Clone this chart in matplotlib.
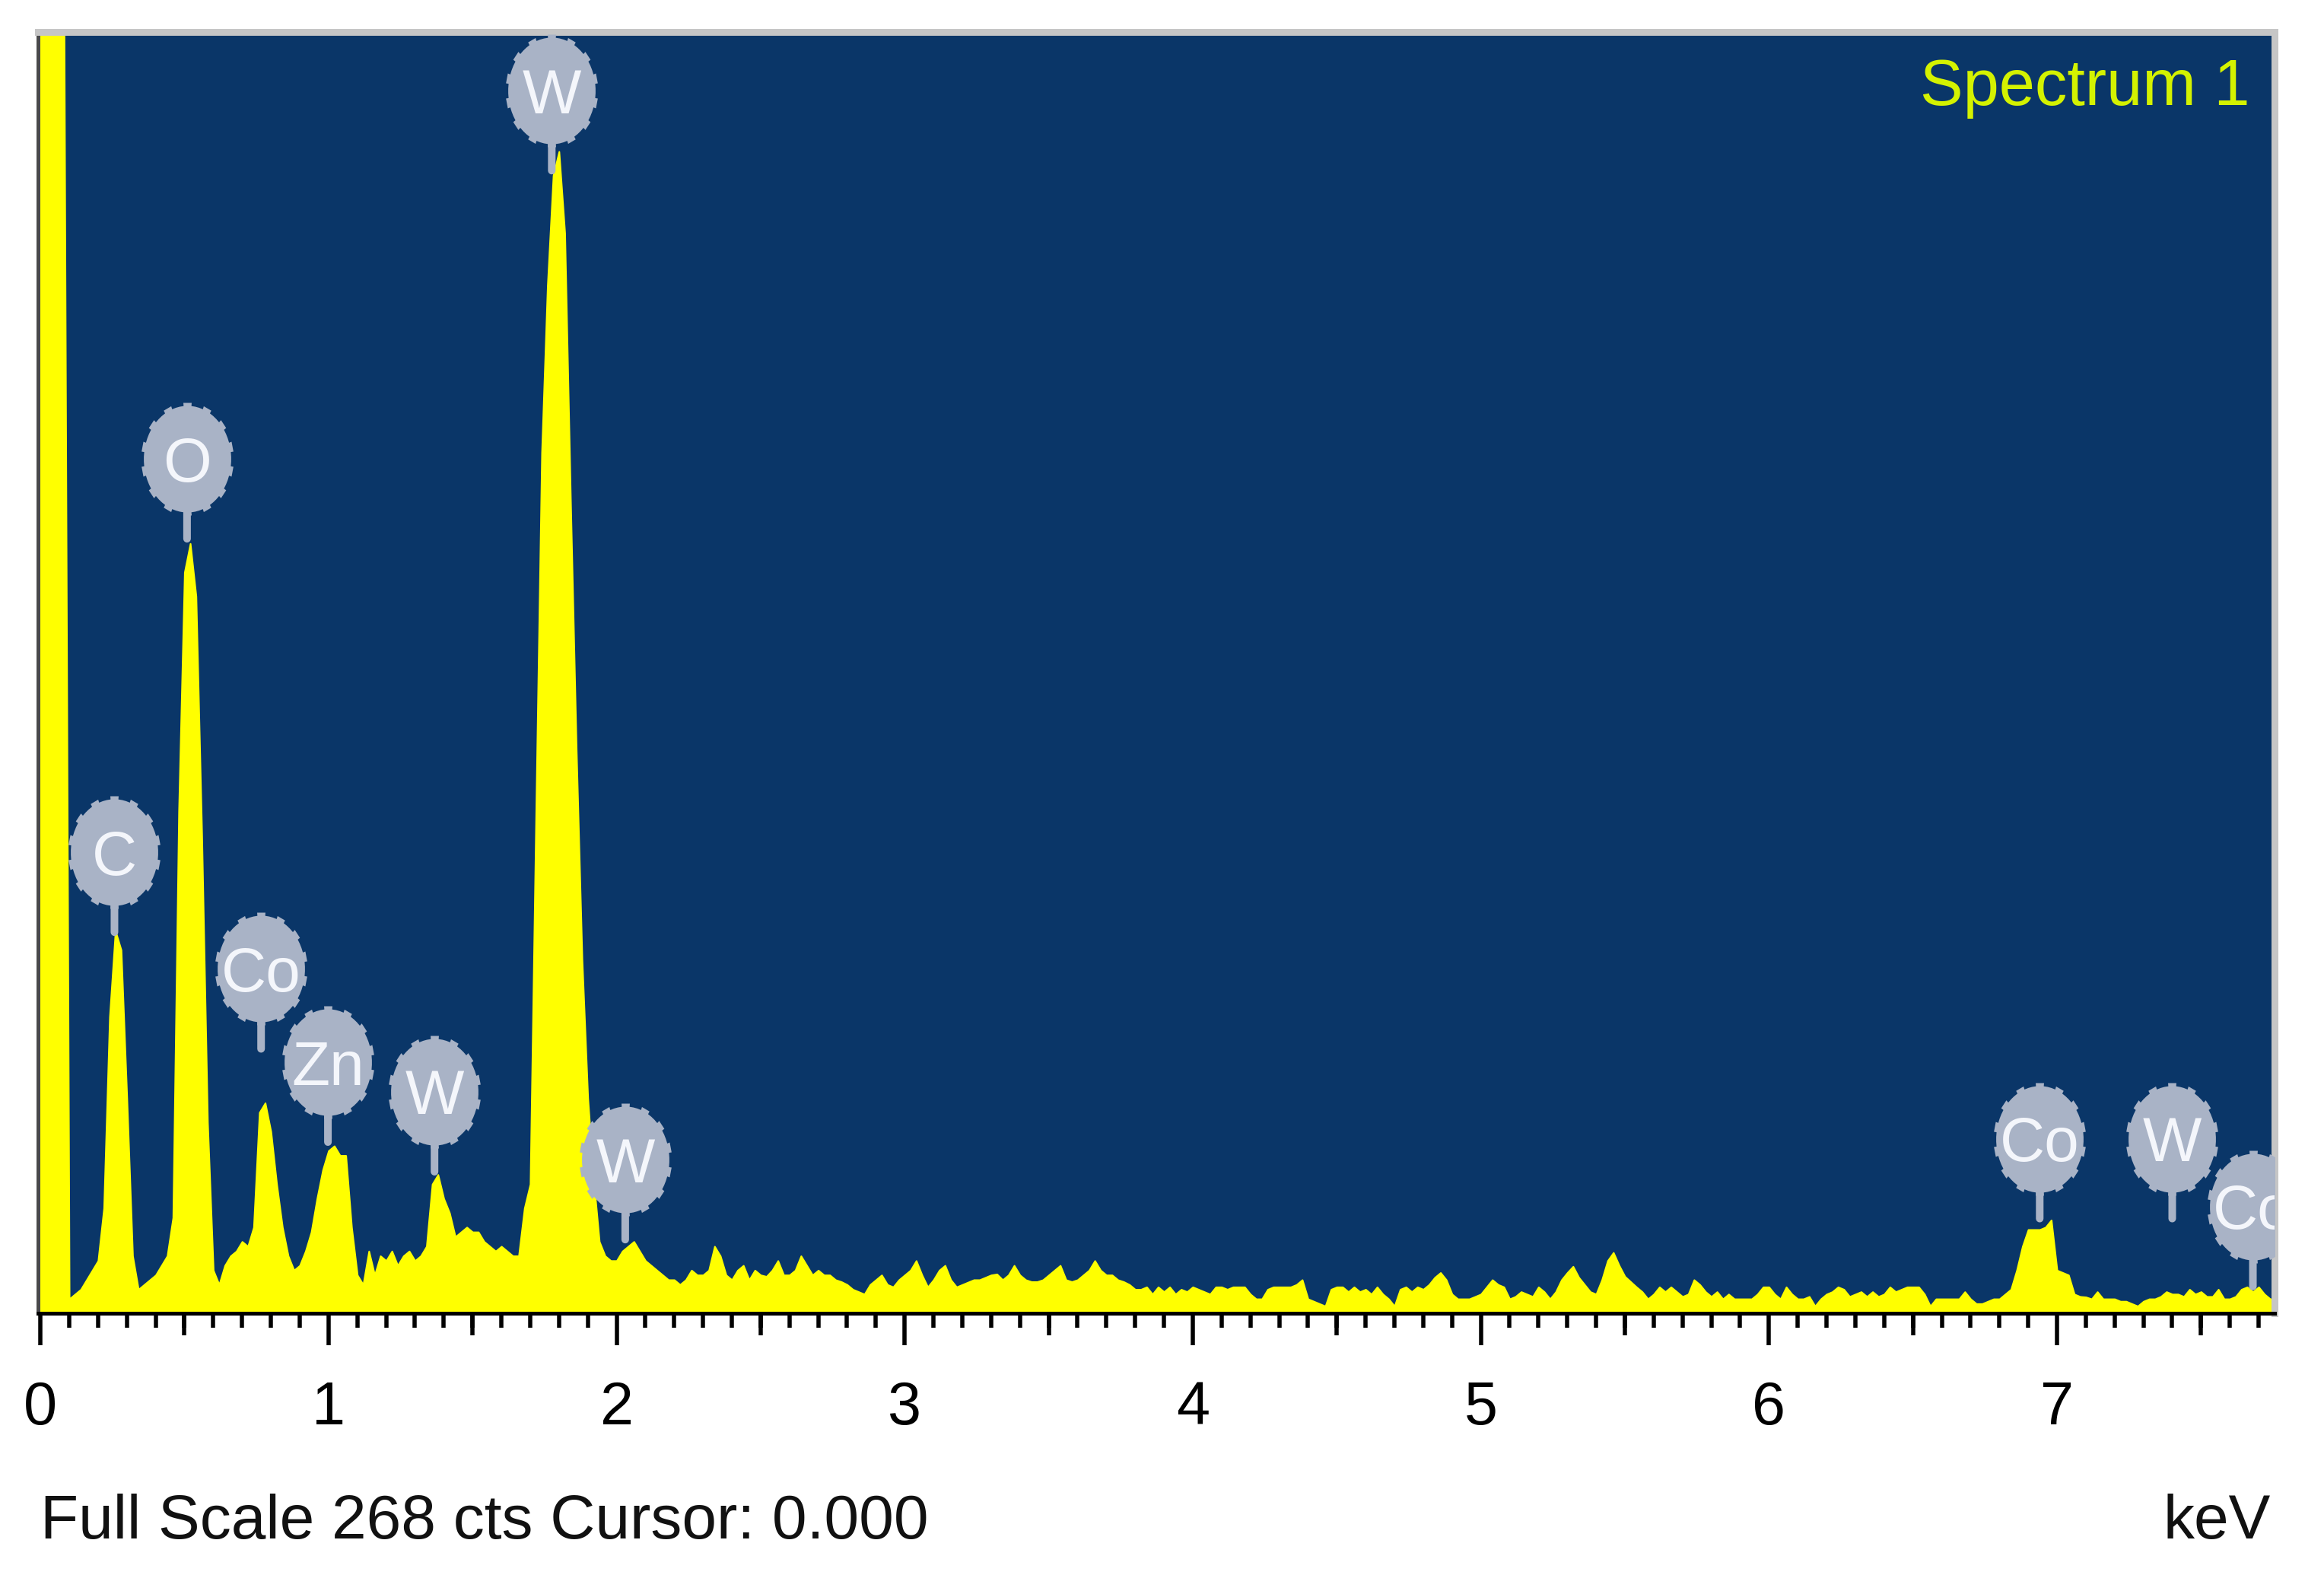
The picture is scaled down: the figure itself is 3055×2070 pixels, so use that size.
import numpy as np
import matplotlib
matplotlib.use("Agg")
import matplotlib.pyplot as plt
from matplotlib.path import Path
from matplotlib.transforms import offset_copy

plt.rcParams['font.family'] = ['Liberation Sans', 'DejaVu Sans']

# -------------------------------
# DATA
# -------------------------------
# channel energies, 20 eV steps from 0 to 7.76 keV
energy_kev = np.round(np.arange(0, 389) * 0.02, 2)

counts = [
    300, 300, 300, 300, 300, 3, 4, 5, 7, 9,            # 0.00
    11, 22, 62, 80, 76, 45, 12, 5, 6, 7,                # 0.20
    8, 10, 12, 20, 105, 155, 161, 150, 100, 40,         # 0.40
    9, 6, 10, 12, 13, 15, 14, 18, 42, 44,               # 0.60
    38, 27, 18, 12, 9, 10, 13, 17, 24, 30,              # 0.80
    34, 35, 33, 33, 18, 8, 6, 13, 8, 12,                # 1.00
    11, 13, 10, 12, 13, 11, 12, 14, 27, 29,             # 1.20
    24, 21, 16, 17, 18, 17, 17, 15, 14, 13,             # 1.40
    14, 13, 12, 12, 22, 27, 105, 180, 215, 238,         # 1.60
    243, 226, 170, 118, 74, 45, 28, 15, 12, 11,         # 1.80
    11, 13, 14, 15, 13, 11, 10, 9, 8, 7,                # 2.00
    7, 6, 7, 9, 8, 8, 9, 14, 12, 8,                     # 2.20
    7, 9, 10, 7, 9, 8, 7.7, 9, 11, 8,                   # 2.40
    8, 9, 12, 10, 8, 9, 8, 8, 7, 6.6,                   # 2.60
    6, 5, 4.5, 4, 6, 7, 8, 6, 5.5, 7,                   # 2.80
    8, 9, 11, 8, 5.5, 7, 9, 10, 7, 5.5,                 # 3.00
    6, 6.5, 7, 7, 7.5, 8, 8.2, 7, 8, 10,                # 3.20
    8, 7, 6.6, 6.6, 7, 8, 9, 10, 7, 6.6,                # 3.40
    7, 8, 9, 11, 9, 8, 8, 7, 6.6, 6,                    # 3.60
    5, 5, 5.5, 4, 5.5, 4.5, 5.5, 4, 5, 4.5,             # 3.80
    5.5, 5, 4.5, 4, 5.5, 5.5, 5, 5.5, 5.5, 5.5,         # 4.00
    4, 3, 3, 5, 5.5, 5.5, 5.5, 5.5, 6, 7,               # 4.20
    3, 2.5, 2, 1.5, 5, 5.5, 5.5, 4.5, 5.5, 4.5,         # 4.40
    5, 4, 5.5, 4, 3, 1.5, 5, 5.5, 4.5, 5.5,             # 4.60
    5, 6, 7.5, 8.5, 7, 4, 3, 3, 3, 3.5,                 # 4.80
    4, 5.5, 7, 6, 5.5, 3, 3.5, 4.5, 4, 3.5,             # 5.00
    5.5, 4.5, 3, 4.5, 7, 8.5, 9.8, 7.5, 6, 4.5,         # 5.20
    4, 7, 11, 12.7, 10, 7.7, 6.6, 5.5, 4.5, 3,          # 5.40
    4, 5.5, 4.5, 5.5, 4.5, 3.5, 4, 7, 6, 4.5,           # 5.60
    3.5, 4.5, 3, 4, 3, 3, 3, 3, 4, 5.5,                 # 5.80
    5.5, 4, 3, 5.5, 4, 3, 3, 3.5, 1.5, 3,               # 6.00
    4, 4.5, 5.5, 5, 3.5, 4, 4.5, 3.5, 4.5, 3.5,         # 6.20
    4, 5.5, 4.5, 5, 5.5, 5.5, 5.5, 4, 1.5, 3,           # 6.40
    3, 3, 3, 3, 4.5, 3, 2, 2, 2.5, 3,                   # 6.60
    3, 4, 5, 9, 14, 17.5, 17.5, 17.5, 18, 19.5,         # 6.80
    9, 8.5, 8, 4, 3.5, 3.4, 3, 4.5, 3, 3,               # 7.00
    3, 2.5, 2.5, 2, 1.5, 2.5, 3, 3, 3.5, 4.5,           # 7.20
    4, 4, 3.5, 5, 4, 4.5, 3.5, 3.5, 5, 3,               # 7.40
    3, 3.5, 5, 5.5, 4.5, 5.5, 4, 3, 3,                  # 7.60
]

# element markers: name, energy (keV), counts at the foot of the stem
label_names = ['C', 'O', 'Co', 'Zn', 'W', 'W', 'W', 'Co', 'W', 'Co']
label_kev = [0.257, 0.509, 0.766, 0.998, 1.368, 1.775, 2.03, 6.94, 7.40, 7.68]
label_cts = [79.7, 162, 55.3, 35.8, 29.6, 239, 15.4, 19.8, 19.8, 5.6]

full_scale = 268
tick_labels = ['0', '1', '2', '3', '4', '5', '6', '7']

# -------------------------------
# STYLE
# -------------------------------
BG = '#0a3668'
YELLOW = '#ffff00'
TAG = '#a9b3c6'
DPI = 100
px = 72.0 / DPI  # points per pixel


def gear_path(n_teeth=14, r_in=1.0, r_out=1.06, stretch=1.22):
    """oval with small square teeth, like the EDS software tags"""
    step = 2 * np.pi / n_teeth
    verts = []
    for k in range(n_teeth):
        a0 = k * step + np.pi / 2 - step * 0.2
        a1 = a0 + step * 0.4
        verts += [(r_in * np.cos(a0), r_in * np.sin(a0)),
                  (r_out * np.cos(a0), r_out * np.sin(a0)),
                  (r_out * np.cos(a1), r_out * np.sin(a1)),
                  (r_in * np.cos(a1), r_in * np.sin(a1))]
        # fill the gap with a few points on the inner circle
        for t in np.linspace(a1, a0 + step, 4)[1:-1]:
            verts.append((r_in * np.cos(t), r_in * np.sin(t)))
    verts = np.array(verts)
    verts[:, 1] *= stretch
    verts = np.vstack([verts, verts[:1]])
    codes = [Path.MOVETO] + [Path.LINETO] * (len(verts) - 2) + [Path.CLOSEPOLY]
    return Path(verts, codes)


fig = plt.figure(figsize=(30.55, 20.70), dpi=DPI)
ax = fig.add_axes([0.0164, 0.1662, 0.9623, 0.8135])
ax.set_facecolor(BG)

ax.fill_between(energy_kev, counts, 0, color=YELLOW, lw=1.5, zorder=2)

ax.set_xlim(-0.008, 7.755)
ax.set_ylim(0, full_scale)

# ticks: long at whole keV, medium at half keV, short every 0.1 keV
ax.set_xticks(np.arange(len(tick_labels)))
ax.set_xticklabels(tick_labels)
ax.set_xticks(np.arange(0, 7.8, 0.1), minor=True)
ax.tick_params(axis='x', which='major', direction='out', length=42 * px, width=5.5 * px,
               color='black', labelsize=57, pad=33)
ax.tick_params(axis='x', which='minor', direction='out', length=19 * px, width=5.5 * px,
               color='black')
ax.set_yticks([])

half = ax.secondary_xaxis('bottom')
half.set_xticks(np.arange(0.5, 7.6, 1.0))
half.set_xticklabels([])
half.tick_params(axis='x', direction='out', length=29 * px, width=5.5 * px, color='black')
half.spines['bottom'].set_visible(False)

ax.spines['bottom'].set_color('black')
ax.spines['bottom'].set_linewidth(5 * px)
ax.spines['left'].set_color('#4a4a4a')
ax.spines['left'].set_linewidth(5 * px)
for side in ('top', 'right'):
    ax.spines[side].set_color('#c6c6c6')
    ax.spines[side].set_linewidth(9 * px)

# element tags
gear = gear_path()
stem_px = 105
for name, e, c in zip(label_names, label_kev, label_cts):
    ax.annotate('', xy=(e, c), xytext=(0, stem_px * px), textcoords='offset points',
                arrowprops=dict(arrowstyle='-', lw=10 * px, color=TAG, shrinkA=0, shrinkB=0),
                zorder=4)
    tr = offset_copy(ax.transData, fig=fig, x=0, y=stem_px, units='dots')
    ax.plot([e], [c], marker=gear, ms=148 * px, color=TAG, mec='none',
            transform=tr, zorder=5, clip_on=True)
    ax.text(e, c, name, transform=tr, ha='center', va='center_baseline', fontsize=59,
            color='#f4f6fb', zorder=6, clip_on=True)

ax.text(0.9888, 0.943, 'Spectrum 1', transform=ax.transAxes, ha='right', va='baseline',
        fontsize=61, color='#d4f200', zorder=6)

fig.text(0.0174, 0.0232, f'Full Scale {full_scale} cts Cursor: 0.000', ha='left',
         va='baseline', fontsize=59, color='#111111')
fig.text(0.977, 0.0232, 'keV', ha='right', va='baseline', fontsize=59, color='#111111')

fig.savefig('out.png', dpi=DPI, facecolor='white')
